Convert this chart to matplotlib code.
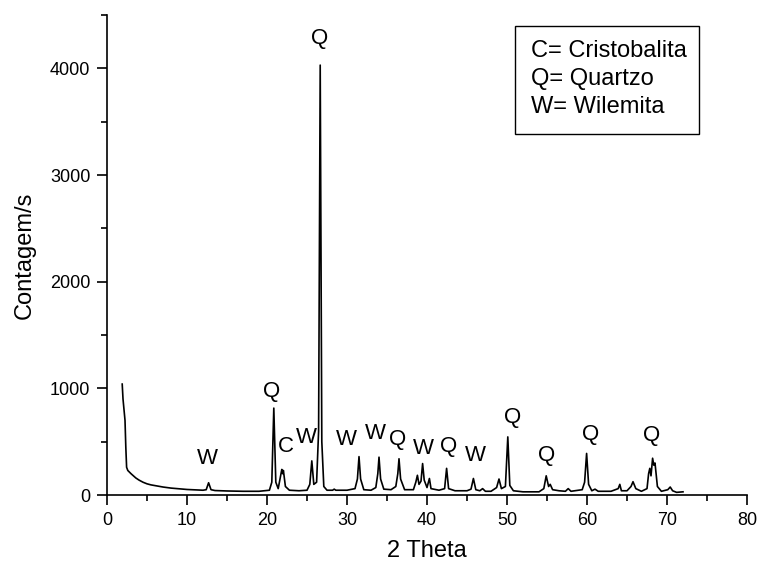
import numpy as np
import matplotlib.pyplot as plt
from matplotlib.patches import Rectangle
from matplotlib.ticker import MultipleLocator

plt.rcParams['font.family'] = ['Liberation Sans', 'DejaVu Sans']

# diffractogram vertices (2 theta, counts)
two_theta = [
    1.9, 2.0, 2.15, 2.25, 2.35, 2.45, 2.6, 2.8, 3.0, 3.3, 3.6, 4.0, 4.5, 5.0,
    5.5, 6.0, 7.0, 8.0, 9.0, 10.0, 11.0, 12.0, 12.4, 12.7, 13.0, 13.5, 15.0,
    17.0, 19.0, 20.3, 20.6, 20.85, 21.1, 21.4, 21.7, 21.85, 21.95, 22.05, 22.3,
    22.8, 24.0, 25.0, 25.35, 25.6, 25.85, 26.2, 26.45, 26.65, 26.85, 27.1,
    27.5, 28.2, 28.4, 28.6, 30.0, 31.0, 31.3, 31.5, 31.7, 32.1, 33.0, 33.6,
    33.85, 34.0, 34.2, 34.6, 35.5, 36.1, 36.35, 36.5, 36.7, 37.2, 38.3, 38.6,
    38.8, 39.0, 39.25, 39.45, 39.65, 40.0, 40.3, 40.5, 41.5, 42.2, 42.45,
    42.7, 43.5, 45.0, 45.5, 45.8, 46.1, 46.6, 46.95, 47.3, 48.0, 48.7, 49.0,
    49.3, 49.8, 50.1, 50.35, 50.8, 52.0, 54.0, 54.6, 54.9, 55.2, 55.4, 55.7,
    56.5, 57.3, 57.65, 58.0, 59.4, 59.7, 59.95, 60.2, 60.6, 61.0, 61.4, 63.0,
    63.9, 64.1, 64.3, 65.0, 65.5, 65.75, 66.1, 66.8, 67.5, 67.7, 67.85, 68.0,
    68.2, 68.35, 68.5, 68.8, 69.3, 70.1, 70.4, 70.7, 71.2, 72.0,
]
counts = [
    1040, 900, 780, 700, 450, 260, 230, 215, 200, 180, 160, 140, 120, 105,
    95, 88, 75, 65, 58, 52, 48, 45, 50, 115, 50, 42, 38,
    35, 35, 45, 120, 815, 120, 60, 180, 240, 200, 230, 80,
    45, 40, 45, 100, 320, 100, 120, 600, 4030, 500, 80,
    45, 45, 55, 45, 45, 60, 150, 360, 150, 50, 45, 70,
    200, 355, 150, 55, 50, 80, 200, 340, 150, 50, 50, 120,
    185, 100, 130, 295, 140, 70, 155, 60, 45, 60, 250,
    60, 40, 40, 55, 155, 50, 40, 60, 35, 35, 70, 150,
    60, 80, 545, 90, 40, 30, 30, 60, 180, 80, 100, 50,
    40, 35, 60, 35, 50, 120, 390, 100, 40, 55, 35, 35,
    60, 100, 40, 40, 80, 125, 60, 35, 60, 200, 250, 180,
    345, 280, 300, 80, 35, 50, 75, 40, 25, 30,
]

# phase labels above the peaks
peak_labels = ['W', 'Q', 'C', 'W', 'Q', 'W', 'W', 'Q', 'W', 'Q', 'W', 'Q', 'Q', 'Q', 'Q']
label_x = [12.6, 20.6, 22.4, 24.96, 26.6, 29.96, 33.6, 36.3, 39.5, 42.7, 46.1, 50.7, 54.9, 60.5, 68.1]
label_y = [344, 966, 459, 541, 4281, 516, 578, 516, 438, 453, 375, 728, 375, 572, 562]

legend_lines = ['C= Cristobalita', 'Q= Quartzo', 'W= Wilemita']

fig = plt.figure(figsize=(7.6, 5.66), dpi=100)
ax = fig.add_axes([0.1408, 0.1254, 0.8421, 0.8481])

ax.plot(two_theta, counts, color='black', lw=1.2)

for lab, x, y in zip(peak_labels, label_x, label_y):
    ax.text(x, y, lab, fontsize=16, ha='center', va='center')

ax.set_xlim(0, 80)
ax.set_ylim(0, 4500)
ax.xaxis.set_major_locator(MultipleLocator(10))
ax.xaxis.set_minor_locator(MultipleLocator(5))
ax.yaxis.set_major_locator(MultipleLocator(1000))
ax.yaxis.set_minor_locator(MultipleLocator(500))
ax.spines['top'].set_visible(False)
ax.spines['right'].set_visible(False)
for s in ('left', 'bottom'):
    ax.spines[s].set_linewidth(1.2)
ax.tick_params(which='major', direction='out', length=7, width=1.2, labelsize=13, pad=5)
ax.tick_params(which='minor', direction='out', length=4, width=1.2)

ax.set_xlabel('2 Theta', fontsize=17, labelpad=8)
ax.set_ylabel('Contagem/s', fontsize=17, labelpad=10)

# legend box
ax.add_patch(Rectangle((0.6375, 0.752), 0.2875, 0.225, transform=ax.transAxes,
                       fill=False, edgecolor='black', lw=1.0, clip_on=False))
for i, line in enumerate(legend_lines):
    ax.text(0.662, 0.924 - i * 0.0575, line, transform=ax.transAxes,
            fontsize=17, ha='left', va='center')

fig.savefig('out.png', dpi=100)
